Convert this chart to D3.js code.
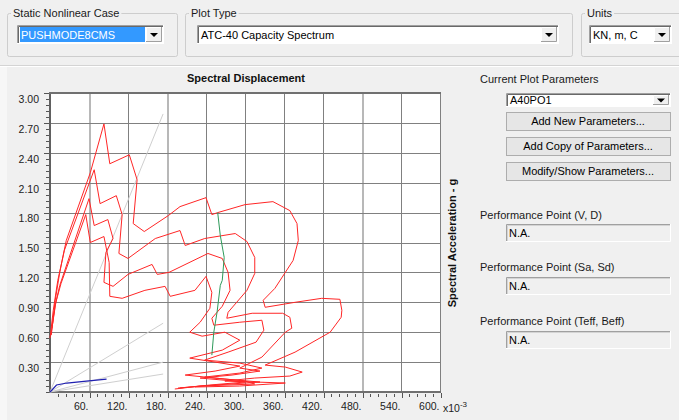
<!DOCTYPE html>
<html>
<head>
<meta charset="utf-8">
<script src="https://cdn.jsdelivr.net/npm/d3@7/dist/d3.min.js"></script>
<style>
  body { margin: 0; background: #f0f0f0; }
  svg { display: block; font-family: "Liberation Sans", Arial, sans-serif; }
</style>
</head>
<body>
<svg id="chart" width="679" height="420"></svg>
<script>
// tick values
const xTicks = [60, 120, 180, 240, 300, 360, 420, 480, 540, 600];
const yTicks = [0.30, 0.60, 0.90, 1.20, 1.50, 1.80, 2.10, 2.40, 2.70, 3.00];

// demand spectra, [Sd x10^-3 m, Sa g]
const demandA = [[2,0.57],[8,0.92],[15,1.20],[25,1.52],[62,2.20],[83,2.69],[92,2.29],[122,2.38],[134,2.13],[128,1.69],
  [145,1.61],[182,1.77],[200,1.86],[240,1.95],[249,1.78],[258,1.80],[300,1.88],[343,1.91],[369,1.82],[380,1.69],
  [382,1.52],[374,1.32],[346,1.04],[328,0.92],[331,0.85],[377,0.90],[418,0.94],[446,0.93],[449,0.82],[448,0.75],
  [431,0.60],[377,0.40],[331,0.27],[362,0.25],[388,0.20],[369,0.16],[315,0.14],[269,0.11],[362,0.09],[292,0.06],[223,0.05]];
const demandB = [[0,0.54],[5,0.82],[12,1.12],[22,1.42],[68,2.23],[77,1.89],[102,1.97],[111,1.78],[106,1.39],[120,1.34],
  [162,1.54],[200,1.62],[208,1.47],[238,1.54],[285,1.59],[303,1.51],[315,1.35],[315,1.19],[303,1.02],[274,0.80],
  [272,0.74],[311,0.79],[358,0.79],[369,0.75],[372,0.64],[362,0.60],[326,0.35],[292,0.24],[323,0.21],[280,0.17],
  [231,0.14],[300,0.10],[246,0.07],[200,0.04]];
const demandC = [[2,0.60],[8,0.87],[15,1.07],[60,1.94],[68,1.67],[89,1.73],[97,1.54],[86,1.40],[83,1.10],[97,1.06],
  [120,1.18],[157,1.28],[165,1.18],[183,1.20],[243,1.39],[265,1.34],[274,1.20],[277,1.02],[265,0.86],[249,0.74],
  [252,0.67],[292,0.70],[326,0.72],[329,0.62],[317,0.50],[274,0.40],[238,0.32],[292,0.29],[326,0.24],[292,0.19],
  [238,0.15],[300,0.11],[315,0.08],[231,0.06],[192,0.03]];
const demandD = [[3,0.64],[9,0.90],[17,1.09],[55,1.78],[62,1.50],[83,1.56],[91,1.30],[92,0.96],[111,0.94],[146,1.02],
  [177,1.06],[185,0.96],[223,1.02],[240,1.16],[249,1.00],[246,0.84],[231,0.70],[215,0.60],[234,0.56],[269,0.60],
  [292,0.52],[265,0.42],[215,0.34],[254,0.30],[292,0.26],[254,0.21],[208,0.17],[269,0.13],[323,0.10],[254,0.07],[197,0.04]];
const demandCurves = [demandA, demandB, demandC, demandD];

// constant period lines, end points [Sd, Sa]
const periodLines = [[174, 2.79], [174, 0.69], [174, 0.30], [174, 0.18]];

// capacity curve
const capacity = [[0,0],[3,0.02],[10,0.07],[26,0.09],[56,0.11],[87,0.13]];

// single demand point line
const demandPoints = [[258,1.80],[262,1.57],[268,1.35],[265,1.12],[262,1.07],[257,0.80],[252,0.60],[249,0.37]];

const svg = d3.select("#chart");

// ---------- dialog chrome ----------
function groupBox(x, y, w, h, label) {
  svg.append("rect").attr("x", x + 0.5).attr("y", y + 0.5).attr("width", w).attr("height", h)
    .attr("rx", 2).attr("fill", "none").attr("stroke", "#cdcdcd");
  const t = svg.append("text").attr("x", x + 6).attr("y", y + 4).attr("font-size", 11).attr("fill", "#1a1a1a").text(label);
  const bw = t.node().getComputedTextLength();
  svg.append("rect").attr("x", x + 4).attr("y", y - 3).attr("width", bw + 4).attr("height", 7).attr("fill", "#f0f0f0");
  t.raise();
}

function combo(x, y, w, h, label, selected) {
  svg.append("rect").attr("x", x).attr("y", y).attr("width", w).attr("height", h).attr("fill", "#fff");
  svg.append("path").attr("d", `M${x + 0.5},${y + h} V${y + 0.5} H${x + w}`).attr("stroke", "#a0a0a0").attr("fill", "none");
  svg.append("path").attr("d", `M${x + 1.5},${y + h - 1} V${y + 1.5} H${x + w - 1}`).attr("stroke", "#696969").attr("fill", "none");
  svg.append("path").attr("d", `M${x},${y + h - 0.5} H${x + w - 0.5} V${y}`).attr("stroke", "#ffffff").attr("fill", "none");
  const bx = x + w - 18;
  if (selected) {
    svg.append("rect").attr("x", x + 3).attr("y", y + 2).attr("width", bx - x - 4).attr("height", h - 4).attr("fill", "#3399ff");
  }
  svg.append("text").attr("x", x + 4).attr("y", y + h / 2 + 4).attr("font-size", 11)
    .attr("fill", selected ? "#ffffff" : "#000").text(label);
  svg.append("rect").attr("x", bx).attr("y", y + 2).attr("width", 16).attr("height", h - 4).attr("fill", "#f0f0f0");
  svg.append("path").attr("d", `M${bx + 0.5},${y + h - 2} V${y + 2.5} H${bx + 16}`).attr("stroke", "#fff").attr("fill", "none");
  svg.append("path").attr("d", `M${bx},${y + h - 2.5} H${bx + 15.5} V${y + 2}`).attr("stroke", "#a0a0a0").attr("fill", "none");
  const cx = bx + 8, cy = y + h / 2;
  svg.append("path").attr("d", `M${cx - 4},${cy - 1.5} H${cx + 4} L${cx},${cy + 2.5} Z`).attr("fill", "#000");
}

function button(x, y, w, h, label) {
  svg.append("rect").attr("x", x + 0.5).attr("y", y + 0.5).attr("width", w).attr("height", h)
    .attr("fill", "#e6e6e6").attr("stroke", "#adadad");
  svg.append("text").attr("x", x + w / 2).attr("y", y + h / 2 + 4).attr("text-anchor", "middle")
    .attr("font-size", 11).attr("fill", "#000").text(label);
}

function readBox(x, y, w, h, label) {
  svg.append("rect").attr("x", x).attr("y", y).attr("width", w).attr("height", h).attr("fill", "#f0f0f0");
  svg.append("path").attr("d", `M${x + 0.5},${y + h} V${y + 0.5} H${x + w}`).attr("stroke", "#a0a0a0").attr("fill", "none");
  svg.append("path").attr("d", `M${x + 1.5},${y + h - 1} V${y + 1.5} H${x + w - 1}`).attr("stroke", "#d4d4d4").attr("fill", "none");
  svg.append("path").attr("d", `M${x},${y + h - 0.5} H${x + w - 0.5} V${y}`).attr("stroke", "#ffffff").attr("fill", "none");
  svg.append("text").attr("x", x + 3).attr("y", y + h / 2 + 4).attr("font-size", 11).attr("fill", "#000").text(label);
}

function label(x, y, s) {
  svg.append("text").attr("x", x).attr("y", y).attr("font-size", 11).attr("fill", "#1a1a1a").text(s);
}

groupBox(7, 13, 170, 43, "Static Nonlinear Case");
groupBox(185, 13, 387, 43, "Plot Type");
groupBox(581, 13, 100, 43, "Units");
combo(17, 25, 147, 19, "PUSHMODE8CMS", true);
combo(197, 25, 362, 19, "ATC-40 Capacity Spectrum", false);
combo(589, 25, 83, 19, "KN, m, C", false);

svg.append("line").attr("x1", 0).attr("x2", 679).attr("y1", 65.5).attr("y2", 65.5).attr("stroke", "#d4d4d4");
svg.append("line").attr("x1", 0).attr("x2", 679).attr("y1", 66.5).attr("y2", 66.5).attr("stroke", "#ffffff");
svg.append("rect").attr("x", 0).attr("y", 67).attr("width", 7).attr("height", 353).attr("fill", "#f7f7f7");

label(480, 83, "Current Plot Parameters");
combo(506, 93, 165, 14, "A40PO1", false);
button(506, 112, 164, 18, "Add New Parameters...");
button(506, 137, 164, 18, "Add Copy of Parameters...");
button(506, 162, 164, 18, "Modify/Show Parameters...");
label(480, 219, "Performance Point (V, D)");
readBox(506, 224, 165, 18, "N.A.");
label(480, 271, "Performance Point (Sa, Sd)");
readBox(506, 277, 165, 18, "N.A.");
label(480, 325, "Performance Point (Teff, Beff)");
readBox(506, 331, 165, 18, "N.A.");

// ---------- plot ----------
const x = d3.scaleLinear().domain([0, 600]).range([50, 440]);
const y = d3.scaleLinear().domain([0, 3]).range([392, 93]);
const px = v => Math.round(x(v)) + 0.5;
const py = v => Math.round(y(v)) + 0.5;

svg.append("rect").attr("x", 50).attr("y", 93).attr("width", 390).attr("height", 299).attr("fill", "#fff");

const grid = svg.append("g").attr("shape-rendering", "crispEdges");
const lightX = [60, 180, 480];
grid.selectAll("line.gx").data(xTicks).join("line").attr("class", "gx")
  .attr("x1", d => px(d)).attr("x2", d => px(d)).attr("y1", 93).attr("y2", 392)
  .attr("stroke", d => lightX.includes(d) ? "#b8b8b8" : "#808080")
  .attr("stroke-width", d => lightX.includes(d) ? 2 : 1);
grid.selectAll("line.gy").data(yTicks).join("line").attr("class", "gy")
  .attr("x1", 50).attr("x2", 440).attr("y1", d => py(d)).attr("y2", d => py(d))
  .attr("stroke", "#808080");

// axis lines
grid.append("line").attr("x1", 49.5).attr("x2", 49.5).attr("y1", 93).attr("y2", 393).attr("stroke", "#606060").attr("stroke-width", 2);
grid.append("line").attr("x1", 49).attr("x2", 441).attr("y1", 93).attr("y2", 93).attr("stroke", "#707070").attr("stroke-width", 2);
grid.append("line").attr("x1", 49).attr("x2", 441).attr("y1", 392).attr("y2", 392).attr("stroke", "#707070").attr("stroke-width", 1.5);

// y axis with minor ticks
const yMinor = d3.range(0, 3.0001, 0.06);
const ya = svg.append("g").attr("transform", "translate(49,0)").call(d3.axisLeft(y).tickValues(yMinor).tickSize(3).tickFormat(""));
ya.select(".domain").remove();
ya.selectAll("line").attr("stroke", "#555").attr("shape-rendering", "crispEdges");
const yb = svg.append("g").attr("transform", "translate(49,0)")
  .call(d3.axisLeft(y).tickValues(yTicks).tickSize(5).tickFormat(d => d.toFixed(2)));
yb.select(".domain").remove();
yb.selectAll("line").attr("stroke", "#555").attr("shape-rendering", "crispEdges");
yb.selectAll("text").attr("font-size", 10.5).attr("fill", "#222").attr("font-family", "Liberation Sans, Arial, sans-serif")
  .attr("x", -10).attr("y", 6);

// x axis with minor ticks
const xMinor = d3.range(12, 600.1, 12);
const xa = svg.append("g").attr("transform", "translate(0,393)").call(d3.axisBottom(x).tickValues(xMinor).tickSize(3).tickFormat(""));
xa.select(".domain").remove();
xa.selectAll("line").attr("stroke", "#555").attr("shape-rendering", "crispEdges").attr("transform", "translate(0.5,1)");
const xb = svg.append("g").attr("transform", "translate(0,393)").call(d3.axisBottom(x).tickValues(xTicks).tickSize(5).tickFormat(d => d + "."));
xb.select(".domain").remove();
xb.selectAll("line").attr("stroke", "#555").attr("shape-rendering", "crispEdges").attr("transform", "translate(0.5,0)");
xb.selectAll("text").attr("font-size", 10.5).attr("fill", "#222").attr("font-family", "Liberation Sans, Arial, sans-serif")
  .attr("text-anchor", "end").attr("x", -1).attr("y", 10).attr("dy", "0.71em");

const unit = svg.append("text").attr("x", 443).attr("y", 412).attr("font-size", 10.5).attr("fill", "#222");
unit.append("tspan").text("x10");
unit.append("tspan").attr("dy", -5).attr("font-size", 8).text("-3");

// titles
svg.append("text").attr("x", 246).attr("y", 82).attr("text-anchor", "middle").attr("font-size", 11)
  .attr("font-weight", "bold").attr("fill", "#111").text("Spectral Displacement");
svg.append("text").attr("transform", "translate(456,243) rotate(-90)").attr("text-anchor", "middle").attr("font-size", 11)
  .attr("font-weight", "bold").attr("fill", "#111").text("Spectral Acceleration - g");

// curves
const line = d3.line().x(d => x(d[0])).y(d => y(d[1]));
const plot = svg.append("g");

plot.selectAll("line.period").data(periodLines).join("line").attr("class", "period")
  .attr("x1", x(0)).attr("y1", y(0)).attr("x2", d => x(d[0])).attr("y2", d => y(d[1]))
  .attr("stroke", "#cfcfcf").attr("stroke-width", 1);

plot.selectAll("path.demand").data(demandCurves).join("path").attr("class", "demand")
  .attr("d", line).attr("fill", "none").attr("stroke", "#ff2626").attr("stroke-width", 1).attr("stroke-linejoin", "round");

plot.append("path").datum(capacity).attr("d", line).attr("fill", "none").attr("stroke", "#2020b0").attr("stroke-width", 1.2);
plot.append("path").datum(demandPoints).attr("d", line).attr("fill", "none").attr("stroke", "#2e9a5a").attr("stroke-width", 1);
</script>
</body>
</html>
